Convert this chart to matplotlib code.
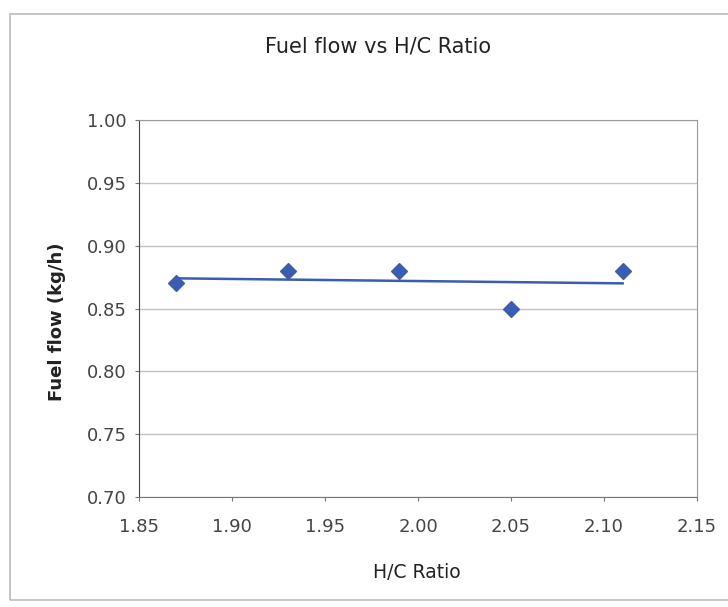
import matplotlib
matplotlib.use("Agg")
import matplotlib.pyplot as plt
import numpy as np
from matplotlib.patches import Rectangle

hc_ratio = [1.87, 1.93, 1.99, 2.05, 2.11]
fuel_flow = [0.87, 0.88, 0.88, 0.85, 0.88]
x_ticks = [1.85, 1.90, 1.95, 2.00, 2.05, 2.10, 2.15]
y_ticks = [0.70, 0.75, 0.80, 0.85, 0.90, 0.95, 1.00]

plt.rcParams['font.family'] = ['DejaVu Sans']
fig = plt.figure(figsize=(7.28, 6.07), dpi=100)
ax = fig.add_axes([139/728, 110/607, 558/728, 377/607])

blue = '#3c5cb4'
slope, intercept = np.polyfit(hc_ratio, fuel_flow, 1)
xs = np.array([hc_ratio[0], hc_ratio[-1]])
ax.plot(xs, slope * xs + intercept, color=blue, lw=1.8, zorder=2)
ax.scatter(hc_ratio, fuel_flow, marker='D', s=65, color=blue, zorder=3)

ax.set_xlim(1.85, 2.15)
ax.set_ylim(0.70, 1.00)
ax.set_xticks(x_ticks)
ax.set_yticks(y_ticks)
ax.set_xticklabels([f"{v:.2f}" for v in x_ticks])
ax.set_yticklabels([f"{v:.2f}" for v in y_ticks])
ax.grid(axis='y', color='#c2c2c2', lw=1)
ax.set_axisbelow(True)
for s in ax.spines.values():
    s.set_color('#999999')
ax.spines['left'].set_color('#444444')
ax.spines['bottom'].set_color('#777777')
ax.tick_params(direction='out', length=3, colors='#777777', labelsize=13, labelcolor='#444444')
ax.tick_params(axis='x', pad=12)
ax.tick_params(axis='y', pad=6)

fig.text(378/728, 1 - 52/607, "Fuel flow vs H/C Ratio", fontsize=15, color='#222222',
         ha='center', va='baseline')
fig.text(417/728, 1 - 578/607, "H/C Ratio", fontsize=13.5, color='#222222',
         ha='center', va='baseline')
fig.text(57.5/728, 1 - 322/607, "Fuel flow (kg/h)", fontsize=13, color='#222222', fontweight='bold',
         rotation=90, ha='center', va='center')

fig.patches.append(Rectangle((10/728, 7/607), 1.1, 1 - 21/607, transform=fig.transFigure,
                             fill=False, edgecolor='#bbbbbb', lw=1.2))

fig.savefig("out.png", dpi=100)
